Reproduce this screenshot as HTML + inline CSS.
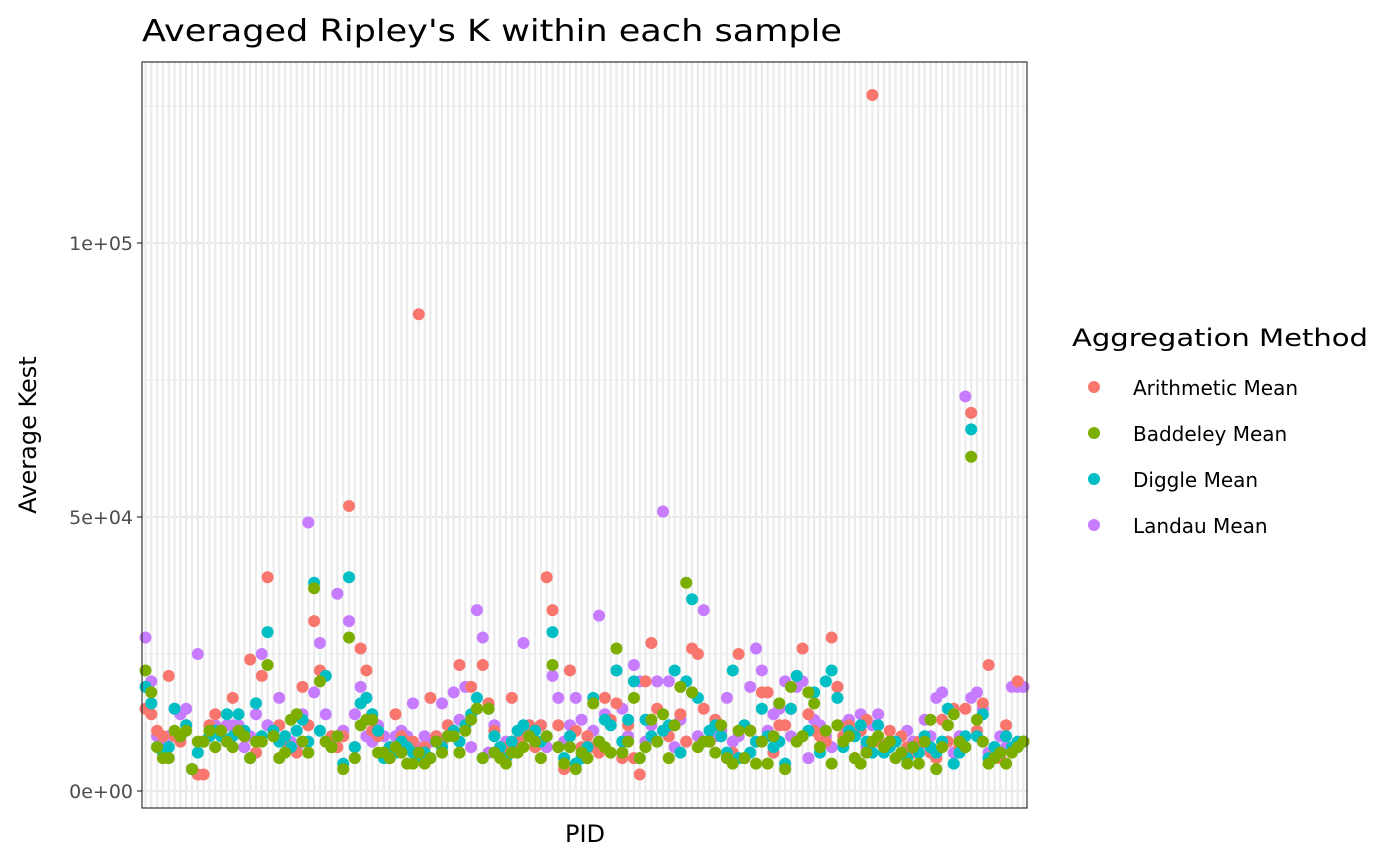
<!DOCTYPE html>
<html><head><meta charset="utf-8"><style>
html,body{margin:0;padding:0;background:#fff;}
svg{display:block;font-family:"DejaVu Sans","Liberation Sans",sans-serif;}
</style></head><body>
<svg id="chart" width="1400" height="865" viewBox="0 0 1400 865">
<text x="142" y="41" font-size="30" fill="#000" textLength="700" lengthAdjust="spacingAndGlyphs">Averaged Ripley's K within each sample</text>
<g id="grid"></g>
<g id="pts"></g>
<rect x="142" y="62" width="885" height="746" fill="none" stroke="#333" stroke-width="1.2"/>
<g id="yticks"></g>
<text x="585" y="842" font-size="24" text-anchor="middle">PID</text>
<text transform="translate(36,435) rotate(-90)" font-size="24" text-anchor="middle">Average Kest</text>
<g id="legend">
<text x="1072" y="346" font-size="24" textLength="296" lengthAdjust="spacingAndGlyphs">Aggregation Method</text>
</g>
</svg>
<script>
const seriesNames = ["Arithmetic Mean","Baddeley Mean","Diggle Mean","Landau Mean"];
const seriesColors = ["#F8766D","#7CAE00","#00BFC4","#C77CFF"];
const yTickValues = [0,50000,100000];
const yTickLabels = ["0e+00","5e+04","1e+05"];
const arith = [15,14,11,10,21,10,9,12,4,3, 3,12,14,11,9,17,11,10,24,7, 21,39,11,12,9,8,7,19,12,31, 22,9,10,8,10,52,8,26,22,11, 10,7,6,14,10,9,9,87,8,17, 10,9,12,11,23,12,19,15,23,16, 11,7,8,17,9,10,12,8,12,39, 33,12,4,22,11,8,10,8,7,17, 13,16,6,12,6,3,20,27,15,11, 10,12,14,9,26,25,15,9,13,10, 6,7,25,6,11,9,18,18,7,12, 12,15,21,26,14,11,10,9,28,19, 10,12,6,11,13,127,9,8,11,9, 10,8,7,9,9,7,6,13,9,15, 8,15,69,11,16,23,7,6,12,8, 20,9];
const baddeley = [22,18,8,6,6,11,10,11,4,9, 9,11,8,11,9,8,11,10,6,9, 9,23,10,6,7,13,14,9,7,37, 20,9,8,10,4,28,6,12,13,13, 7,7,6,8,7,5,5,7,5,6, 9,7,10,10,7,11,13,15,6,15, 7,6,5,7,7,8,10,9,6,10, 23,8,5,8,4,7,6,16,9,8, 7,26,7,9,17,6,8,13,9,14, 6,12,19,38,18,8,9,9,7,12, 6,5,11,6,11,5,9,5,10,16, 4,19,9,10,18,16,8,11,5,12, 9,10,6,5,7,9,10,8,9,6, 7,5,8,5,9,13,4,8,12,14, 9,8,61,13,9,5,6,7,5,7, 8,9];
const diggle = [19,16,8,7,8,15,10,12,4,7, 9,10,11,10,14,10,14,11,6,16, 10,29,11,9,10,8,11,13,9,38, 11,21,8,10,5,39,8,16,17,14, 11,6,8,7,9,8,7,6,7,6, 9,8,10,11,9,12,14,17,6,15, 10,8,6,9,11,12,10,11,9,10, 29,8,6,10,5,6,8,17,9,13, 12,22,9,13,20,6,13,10,9,11, 12,22,7,20,35,17,9,11,12,10, 7,22,6,12,7,9,15,10,8,9, 5,15,21,10,11,18,7,20,22,17, 8,11,10,12,9,7,12,7,8,9, 7,6,8,7,10,8,7,9,15,5, 7,10,66,10,14,6,8,7,10,8, 9,9];
const landau = [28,20,10,8,10,15,14,15,4,25, 9,10,12,11,12,12,12,8,10,14, 25,12,11,17,10,9,8,14,49,18, 27,14,8,36,11,31,14,19,10,9, 12,10,8,10,11,10,16,8,10,9, 10,16,12,18,13,19,8,33,28,7, 12,8,9,8,9,27,12,11,12,8, 21,17,9,12,17,13,8,11,32,14, 12,22,15,10,23,20,9,12,20,51, 20,8,13,9,18,10,33,9,10,11, 17,9,10,6,19,26,22,11,14,15, 20,10,19,20,6,13,12,10,8,19, 12,13,11,14,8,12,14,8,9,6, 10,11,9,8,13,10,17,18,15,7, 10,72,17,18,15,7,8,10,8,19, 19,19];

const NS="http://www.w3.org/2000/svg";
const px0=142, px1=1027, py0=62, py1=808;
const n = arith.length;
const step = (px1-px0)/(n-1+1.2);
function xScale(i){return px0+step*(0.6+i);}
function yScale(v){return 791-(v/100000)*548;}
function mk(tag,attrs,parent){const e=document.createElementNS(NS,tag);for(const k in attrs)e.setAttribute(k,attrs[k]);parent.appendChild(e);return e;}

const grid=document.getElementById('grid');
const bg=mk('rect',{x:px0,y:py0,width:px1-px0,height:py1-py0,fill:'#fff'},grid);


[25000,75000,125000].forEach(v=>{
  const l=mk('line',{x1:px0,x2:px1,y1:yScale(v),y2:yScale(v),stroke:'#ebebeb','stroke-width':1},grid);
  
  
});
for(let i=0;i<n;i++){
  const l=mk('line',{x1:xScale(i),x2:xScale(i),y1:py0,y2:py1,stroke:'#ebebeb','stroke-width':2.2},grid);
  
  
}
yTickValues.forEach((v,k)=>{
  const l=mk('line',{x1:px0,x2:px1,y1:yScale(v),y2:yScale(v),stroke:'#ebebeb','stroke-width':2.2},grid);
  
  
});
const yt=document.getElementById('yticks');
yTickValues.forEach((v,k)=>{
  const t=mk('line',{x1:px0-5,x2:px0,y1:yScale(v),y2:yScale(v),stroke:'#333','stroke-width':1.2},yt);
  
  
  const tx=mk('text',{x:px0-9,y:yScale(v)+7,'font-size':19,'text-anchor':'end',fill:'#4d4d4d'},yt);
  tx.textContent=yTickLabels[k];
  
  
});
const pts=document.getElementById('pts');
const data=[arith,baddeley,diggle,landau];
[3,0,2,1].forEach(s=>{
  data[s].forEach((v,i)=>{
    const c=mk('circle',{cx:xScale(i),cy:yScale(v*1000),r:6,fill:seriesColors[s]},pts);
    
    
  });
});
const lg=document.getElementById('legend');
seriesNames.forEach((nm,s)=>{
  const y=388+s*46;
  const c=mk('circle',{cx:1094,cy:y-1,r:6,fill:seriesColors[s]},lg);
  
  
  const t=mk('text',{x:1133,y:y+7,'font-size':20},lg);
  t.textContent=nm;
  
  
});
</script>
</body></html>
